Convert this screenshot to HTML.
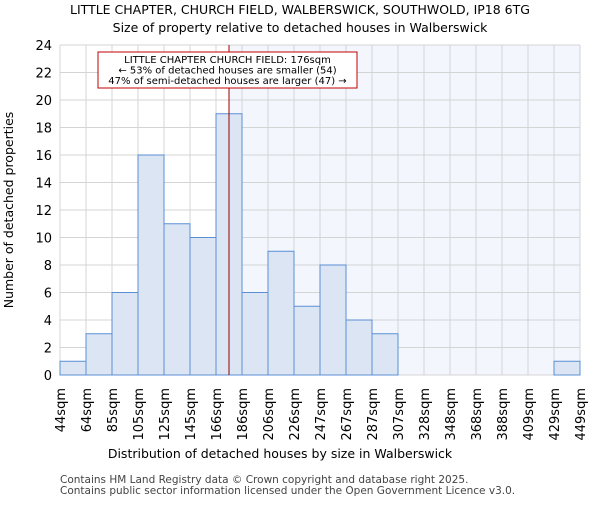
<!DOCTYPE html>
<html><head><meta charset="utf-8"><style>body{margin:0;background:#fff}svg{font-family:"DejaVu Sans","Liberation Sans",sans-serif}</style></head>
<body>
<svg id="c" width="600" height="500">
<text x="300" y="14" text-anchor="middle" font-size="12.5">LITTLE CHAPTER, CHURCH FIELD, WALBERSWICK, SOUTHWOLD, IP18 6TG</text>
<text x="300" y="32" text-anchor="middle" font-size="12.5">Size of property relative to detached houses in Walberswick</text>
<g id="plot"></g>
<text x="280" y="458" text-anchor="middle" font-size="12.5">Distribution of detached houses by size in Walberswick</text>
<text transform="translate(13,210) rotate(-90)" text-anchor="middle" font-size="12.5">Number of detached properties</text>
<text x="60" y="483" font-size="10.5" fill="#444">Contains HM Land Registry data © Crown copyright and database right 2025.</text>
<text x="60" y="494" font-size="10.5" fill="#444">Contains public sector information licensed under the Open Government Licence v3.0.</text>
</svg>
<script>
const binLabels=["44sqm","64sqm","85sqm","105sqm","125sqm","145sqm","166sqm","186sqm","206sqm","226sqm","247sqm","267sqm","287sqm","307sqm","328sqm","348sqm","368sqm","388sqm","409sqm","429sqm","449sqm"];
const counts=[1,3,6,16,11,10,19,6,9,5,8,4,3,0,0,0,0,0,0,1];
const yTicks=[0,2,4,6,8,10,12,14,16,18,20,22,24];
const markerBin=6.5;
const NS="http://www.w3.org/2000/svg";
const L=60,R=580,T=45,B=375,yMax=24;
const bw=(R-L)/counts.length;
const xs=i=>L+i*bw, ys=v=>B-(v/yMax)*(B-T);
const g=document.getElementById('plot');
function mk(t,a){const e=document.createElementNS(NS,t);for(const k in a)e.setAttribute(k,a[k]);g.appendChild(e);return e;}
const mx=xs(markerBin);
let e=mk('rect',{x:mx,y:T,width:R-mx,height:B-T,fill:'#f3f6fd'});


yTicks.forEach(v=>{const l=mk('line',{x1:L,x2:R,y1:ys(v),y2:ys(v),stroke:'#d4d4d4'});


const t=mk('text',{x:L-8,y:ys(v)+5,'text-anchor':'end','font-size':13});t.textContent=v;

});
binLabels.forEach((s,i)=>{const l=mk('line',{x1:xs(i),x2:xs(i),y1:T,y2:B,stroke:'#d4d4d4'});


const t=mk('text',{transform:`translate(${xs(i)+5},388) rotate(-90)`,'text-anchor':'end','font-size':13});t.textContent=s;

});
counts.forEach((v,i)=>{if(v<=0)return;const r=mk('rect',{x:xs(i),y:ys(v),width:bw,height:B-ys(v),fill:'#dbe5f4',stroke:'#5b8fd4','stroke-width':1});

});
e=mk('line',{x1:mx,x2:mx,y1:T,y2:B,stroke:'#990000','stroke-width':1});


e=mk('rect',{x:98,y:52,width:259,height:36,fill:'#fff',stroke:'#c00000'});


["LITTLE CHAPTER CHURCH FIELD: 176sqm","← 53% of detached houses are smaller (54)","47% of semi-detached houses are larger (47) →"].forEach((s,i)=>{const t=mk('text',{x:227.5,y:63+i*10.5,'text-anchor':'middle','font-size':10});t.textContent=s;

});
</script>
</body></html>
